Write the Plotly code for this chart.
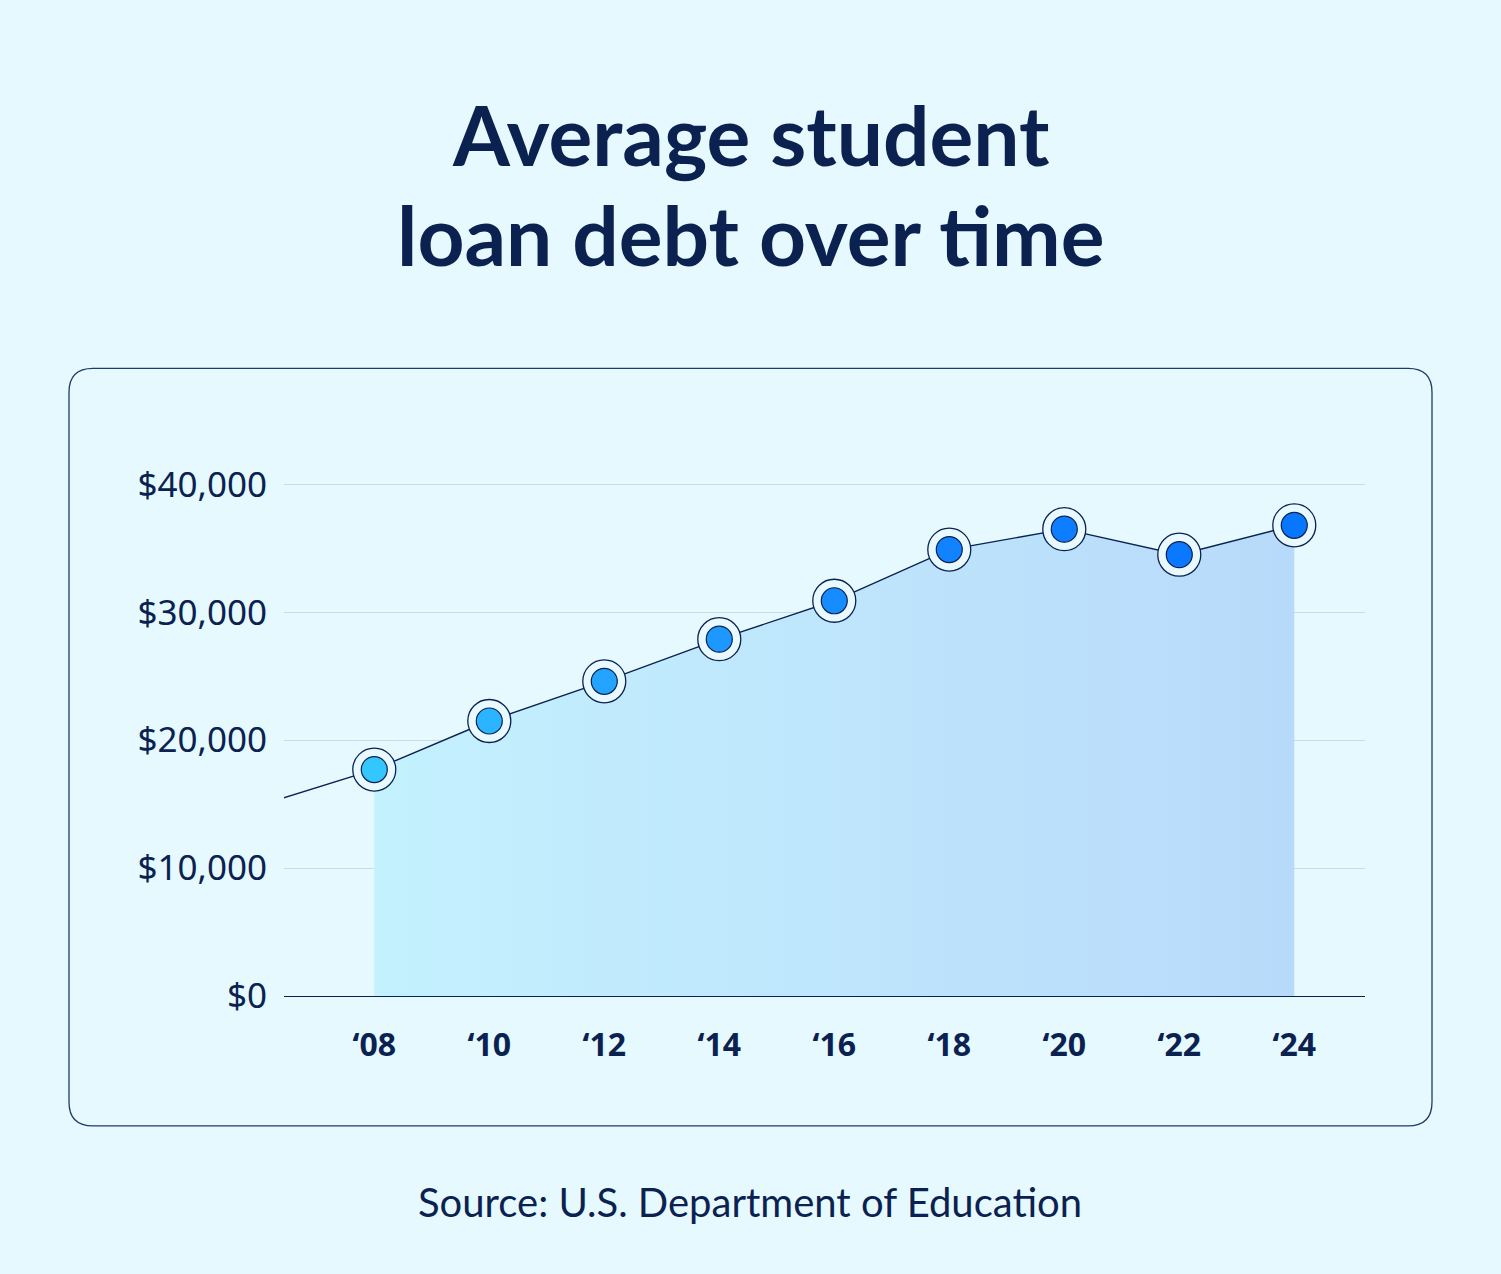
import plotly.graph_objects as go

# ---- data ----
years = [2008, 2010, 2012, 2014, 2016, 2018, 2020, 2022, 2024]
debt = [17700, 21500, 24600, 27900, 30900, 34900, 36500, 34500, 36800]
lead_year = 2006
lead_debt = 14900
tick_years = [2008, 2010, 2012, 2014, 2016, 2018, 2020, 2022, 2024]
tick_labels = ["‘08", "‘10", "‘12", "‘14", "‘16", "‘18", "‘20", "‘22", "‘24"]
y_ticks = [0, 10000, 20000, 30000, 40000]
y_tick_labels = ["$0", "$10,000", "$20,000", "$30,000", "$40,000"]
marker_colors = ["#33C6FF", "#2BB4FF", "#22A4FF", "#1C98FF", "#168CFF",
                 "#1183FF", "#0D7EFF", "#0A79FF", "#0777FF"]

NAVY = "#0B2250"
BG = "#E5F9FF"

W, H = 1501, 1274
L, R = 284, 1365
Y0 = 996
PX_PER_1000 = 12.8
YMAX = 43000
T = Y0 - YMAX / 1000 * PX_PER_1000
B = H - Y0

pw = R - L
ph = Y0 - T


def px(x):
    return (x - L) / pw


def py(y):
    return (Y0 - y) / ph


def rounded_rect(x0, y0, x1, y1, r):
    return (
        f"M {px(x0 + r)} {py(y0)} L {px(x1 - r)} {py(y0)} "
        f"Q {px(x1)} {py(y0)} {px(x1)} {py(y0 + r)} "
        f"L {px(x1)} {py(y1 - r)} "
        f"Q {px(x1)} {py(y1)} {px(x1 - r)} {py(y1)} "
        f"L {px(x0 + r)} {py(y1)} "
        f"Q {px(x0)} {py(y1)} {px(x0)} {py(y1 - r)} "
        f"L {px(x0)} {py(y0 + r)} "
        f"Q {px(x0)} {py(y0)} {px(x0 + r)} {py(y0)} Z"
    )


fig = go.Figure()

# area fill
fig.add_trace(go.Scatter(
    x=years, y=debt, mode="none", fill="tozeroy",
    fillgradient=dict(type="horizontal",
                      colorscale=[[0, "#C4F1FE"], [1, "#B8DAFA"]]),
    hoverinfo="skip", showlegend=False,
))

# line incl. lead-in
fig.add_trace(go.Scatter(
    x=[lead_year] + years, y=[lead_debt] + debt, mode="lines",
    line=dict(color=NAVY, width=1.4), hoverinfo="skip", showlegend=False,
))

# outer ring markers
fig.add_trace(go.Scatter(
    x=years, y=debt, mode="markers",
    marker=dict(size=43, color="#E8F9FF", line=dict(color=NAVY, width=1.3)),
    hoverinfo="skip", showlegend=False, cliponaxis=False,
))

# inner markers
fig.add_trace(go.Scatter(
    x=years, y=debt, mode="markers",
    marker=dict(size=26, color=marker_colors, line=dict(color=NAVY, width=1.2)),
    showlegend=False, cliponaxis=False,
))

fig.update_layout(
    width=W, height=H,
    margin=dict(l=L, r=W - R, t=T, b=B, pad=0),
    paper_bgcolor=BG, plot_bgcolor="rgba(0,0,0,0)",
    xaxis=dict(range=[2006.43, 2025.23], tickvals=tick_years, ticktext=tick_labels,
               showgrid=False, zeroline=False, showline=False, ticks="",
               tickfont=dict(family="Noto Sans", size=32, color=NAVY, weight="bold"),
               ticklabelstandoff=27),
    yaxis=dict(range=[0, YMAX], tickvals=y_ticks, ticktext=y_tick_labels,
               showgrid=True, gridcolor="#C9DDE6", gridwidth=1,
               zeroline=True, zerolinecolor=NAVY, zerolinewidth=1.3,
               showline=False, ticks="",
               tickfont=dict(family="Noto Sans", size=35, color=NAVY),
               ticklabelstandoff=16),
    font=dict(family="Noto Sans", color=NAVY),
    shapes=[dict(type="path", xref="paper", yref="paper", layer="below",
                 path=rounded_rect(69, 368, 1432, 1126, 24),
                 line=dict(color="#1E3D63", width=1.3), fillcolor=BG)],
    annotations=[
        dict(text="<b>Average student</b>",
             xref="paper", yref="paper", x=px(751), y=py(133),
             xanchor="center", yanchor="middle", showarrow=False,
             font=dict(family="Lato", size=82, color=NAVY)),
        dict(text="<b>loan debt over time</b>",
             xref="paper", yref="paper", x=px(751), y=py(233),
             xanchor="center", yanchor="middle", showarrow=False,
             font=dict(family="Lato", size=82, color=NAVY)),
        dict(text="Source: U.S. Department of Education",
             xref="paper", yref="paper", x=px(750), y=py(1202),
             xanchor="center", yanchor="middle", showarrow=False,
             font=dict(family="Lato", size=40, color=NAVY)),
    ],
)

fig.write_html(
    "out.html",
    config={"displayModeBar": False},
    post_script="document.body.style.margin='0';"
                "document.body.style.background='" + BG + "';"
                "document.documentElement.style.background='" + BG + "';",
)
